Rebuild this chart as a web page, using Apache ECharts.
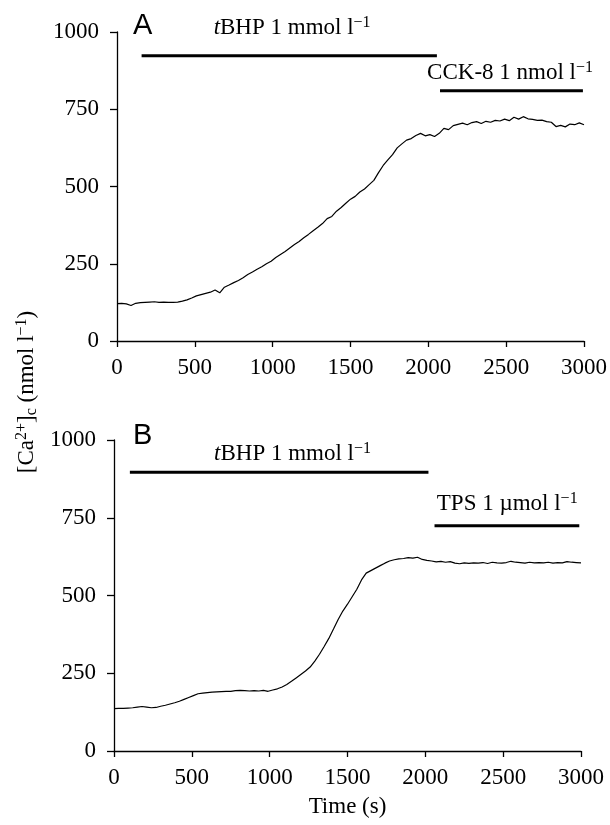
<!DOCTYPE html>
<html>
<head>
<meta charset="utf-8">
<script src="https://cdn.jsdelivr.net/npm/echarts@6/dist/echarts.min.js"></script>
<style>
  html, body { margin: 0; padding: 0; background: #fff; }
  #chart { width: 610px; height: 825px; }
</style>
</head>
<body>
<div id="chart"></div>
<script>
// sampling times (s), shared by both traces
const TIME_S = [
  0, 30, 60, 90, 120, 150, 180, 210, 240, 270,
  300, 330, 360, 390, 420, 450, 480, 510, 540, 570,
  600, 630, 660, 690, 720, 750, 780, 810, 840, 870,
  900, 930, 960, 990, 1020, 1050, 1080, 1110, 1140, 1170,
  1200, 1230, 1260, 1290, 1320, 1350, 1380, 1410, 1440, 1470,
  1500, 1530, 1560, 1590, 1620, 1650, 1680, 1710, 1740, 1770,
  1800, 1830, 1860, 1890, 1920, 1950, 1980, 2010, 2040, 2070,
  2100, 2130, 2160, 2190, 2220, 2250, 2280, 2310, 2340, 2370,
  2400, 2430, 2460, 2490, 2520, 2550, 2580, 2610, 2640, 2670,
  2700, 2730, 2760, 2790, 2820, 2850, 2880, 2910, 2940, 2970,
  3000
]

// [Ca2+]c, nmol l-1 — panel A (tBHP then CCK-8)
const CA_A = [
  121, 122, 120, 115, 122, 124, 125, 126, 127, 125,
  126, 125, 125, 126, 129, 133, 139, 146, 150, 154,
  158, 165, 156, 174, 181, 189, 196, 205, 215, 223,
  232, 240, 250, 258, 270, 280, 290, 301, 312, 322,
  334, 345, 357, 368, 380, 396, 403, 420, 432, 446,
  459, 468, 482, 492, 506, 520, 545, 568, 586, 603,
  625, 638, 650, 655, 665, 672, 664, 668, 662, 672,
  688, 684, 697, 701, 705, 700, 707, 710, 704, 711,
  708, 714, 712, 718, 713, 724, 718, 726, 719, 717,
  714, 715, 710, 708, 694, 698, 693, 702, 700, 706,
  700
]

// panel B (tBHP then TPS)
const CA_B = [
  136, 137, 137, 138, 139, 141, 143, 141, 139, 140,
  144, 147, 151, 155, 160, 166, 172, 178, 184, 186,
  188, 189, 190, 191, 192, 192, 194, 195, 194, 193,
  194, 193, 195, 192, 196, 200, 206, 214, 224, 235,
  246, 257, 270, 289, 311, 336, 362, 392, 423, 450,
  472, 496, 520, 550, 572, 580, 588, 596, 604, 611,
  615, 618, 619, 622, 620, 623, 616, 613, 611, 608,
  610, 607, 609, 604, 602, 605, 603, 605, 604, 606,
  603, 607, 605, 604, 606, 610, 607, 606, 604, 607,
  605, 606, 605, 607, 604, 606, 605, 609, 607, 606,
  605
]

// treatment periods: [start s, end s]
const TREAT_A = [[158, 2055], [2075, 2993]]
const TREAT_B = [[102, 2020], [2059, 2989]]
// bar heights on the y scale
const BAR_LEVEL_A = [923, 810]
const BAR_LEVEL_B = [896, 724]
// label texts and their anchors in data units
const LABELS_A = ['{it|t}BHP 1 mmol l{sup|−1}', 'CCK-8 1 nmol l{sup|−1}']
const LABELS_B = ['{it|t}BHP 1 mmol l{sup|−1}', 'TPS 1 µmol l{sup|−1}']
const LABEL_POS_A = [[1125, 1012], [2525, 867]]
const LABEL_POS_B = [[1147, 955], [2526, 794]]

const X_TICKS = { min: 0, max: 3000, interval: 500 }
const Y_TICKS = { min: 0, max: 1000, interval: 250 }

const SERIF = "'Liberation Serif', 'DejaVu Serif', serif"
const INK = '#000'

const rich = {
  it: { fontFamily: SERIF, fontSize: 23, fontStyle: 'italic', color: INK, lineHeight: 26 },
  sup: { fontFamily: SERIF, fontSize: 16, color: INK, verticalAlign: 'top', lineHeight: 26 },
  sub: { fontFamily: SERIF, fontSize: 16, color: INK, verticalAlign: 'bottom', lineHeight: 26 }
}

const plainNum = v => String(v)

function xAxisOf(idx, withName) {
  return {
    type: 'value', gridIndex: idx, ...X_TICKS,
    axisLine: { show: true, onZero: false, lineStyle: { color: INK, width: 1.3 } },
    axisTick: { show: true, length: 6, lineStyle: { color: INK, width: 1.3 } },
    axisLabel: { color: INK, fontFamily: SERIF, fontSize: 23, margin: 15, formatter: plainNum },
    splitLine: { show: false },
    name: withName ? 'Time (s)' : '',
    nameLocation: 'middle',
    nameGap: 44,
    nameTextStyle: { color: INK, fontFamily: SERIF, fontSize: 23 }
  }
}

function yAxisOf(idx) {
  return {
    type: 'value', gridIndex: idx, ...Y_TICKS,
    axisLine: { show: true, lineStyle: { color: INK, width: 1.3 } },
    axisTick: { show: true, length: 7, lineStyle: { color: INK, width: 1.3 } },
    axisLabel: { color: INK, fontFamily: SERIF, fontSize: 23, margin: 18, formatter: plainNum },
    splitLine: { show: false }
  }
}

function trace(idx, vals) {
  return {
    type: 'line', xAxisIndex: idx, yAxisIndex: idx,
    data: TIME_S.map((t, i) => [t, vals[i]]),
    showSymbol: false, smooth: false,
    lineStyle: { color: INK, width: 1.2 },
    silent: true
  }
}

function bars(idx, periods, levels) {
  return periods.map((p, i) => ({
    type: 'line', xAxisIndex: idx, yAxisIndex: idx,
    data: [[p[0], levels[i]], [p[1], levels[i]]],
    showSymbol: false, clip: false,
    lineStyle: { color: INK, width: 3 },
    silent: true
  }))
}

function labels(idx, texts, pos) {
  return {
    type: 'scatter', xAxisIndex: idx, yAxisIndex: idx,
    clip: false, symbolSize: 1,
    itemStyle: { color: 'rgba(0,0,0,0)' },
    data: pos.map((p, i) => ({ value: p, label: { formatter: texts[i] } })),
    label: {
      show: true, position: 'inside', align: 'center', verticalAlign: 'middle',
      fontFamily: SERIF, fontSize: 23, color: INK, lineHeight: 26,
      textBorderWidth: 0, opacity: 1, rich
    },
    silent: true
  }
}

const chart = echarts.init(document.getElementById('chart'), null, { renderer: 'canvas' })

chart.setOption({
  animation: false,
  backgroundColor: '#fff',
  grid: [
    { left: 117, right: 25, top: 32, height: 309 },
    { left: 114, right: 29, top: 440, height: 311 }
  ],
  xAxis: [xAxisOf(0, false), xAxisOf(1, true)],
  yAxis: [yAxisOf(0), yAxisOf(1)],
  graphic: [
    {
      type: 'text', left: 133, top: 11,
      style: { text: 'A', fontFamily: "'Liberation Sans', Arial, sans-serif", fontSize: 29, fill: INK }
    },
    {
      type: 'text', left: 133, top: 421,
      style: { text: 'B', fontFamily: "'Liberation Sans', Arial, sans-serif", fontSize: 29, fill: INK }
    },
    {
      type: 'text', x: 27, y: 392, rotation: Math.PI / 2,
      style: {
        text: '[Ca{sup|2+}]{sub|c} (nmol l{sup|−1})',
        fontFamily: SERIF, fontSize: 23, fill: INK, lineHeight: 26,
        align: 'center', verticalAlign: 'middle',
        rich
      }
    }
  ],
  series: [
    trace(0, CA_A),
    ...bars(0, TREAT_A, BAR_LEVEL_A),
    labels(0, LABELS_A, LABEL_POS_A),
    trace(1, CA_B),
    ...bars(1, TREAT_B, BAR_LEVEL_B),
    labels(1, LABELS_B, LABEL_POS_B)
  ]
})
</script>
</body>
</html>
